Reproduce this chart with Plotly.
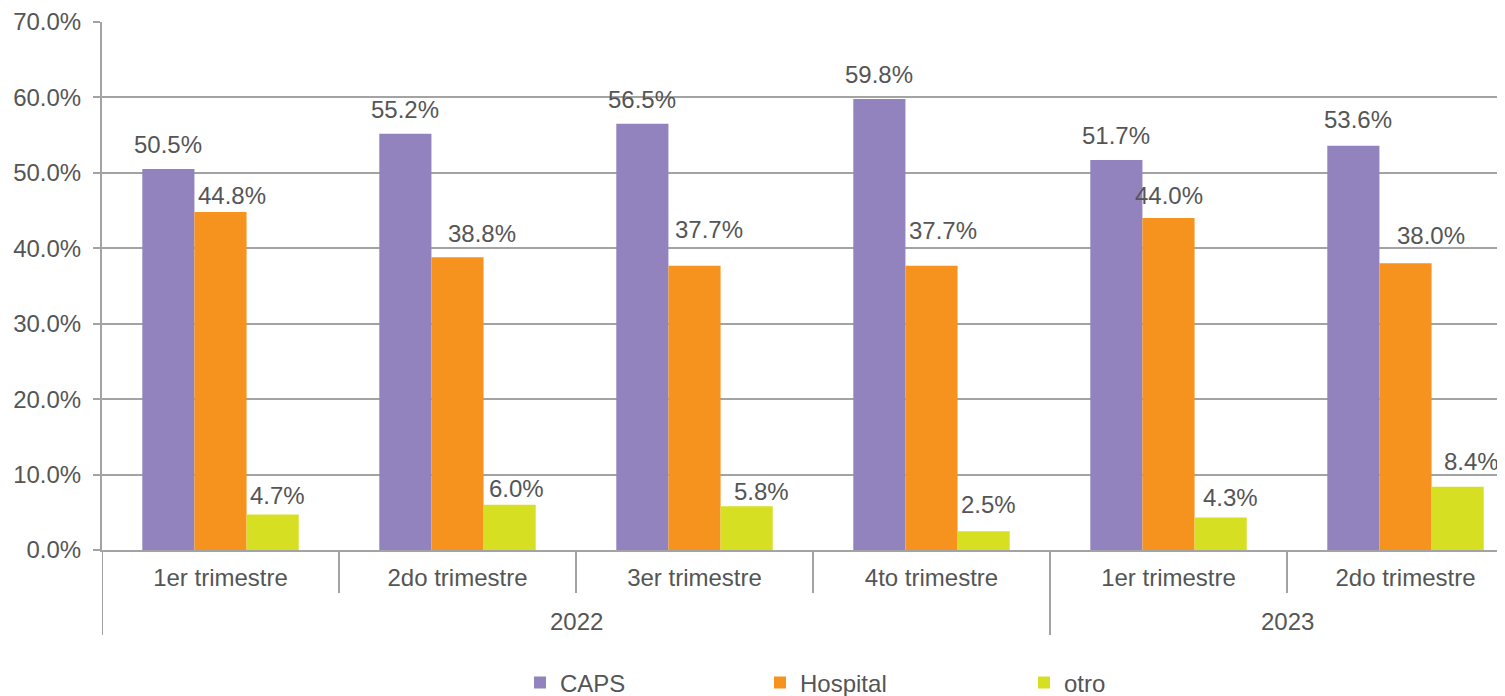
import plotly.graph_objects as go

years = ["2022", "2022", "2022", "2022", "2023", "2023"]
quarters = ["1er trimestre", "2do trimestre", "3er trimestre", "4to trimestre",
            "1er trimestre", "2do trimestre"]
series_names = ["CAPS", "Hospital", "otro"]
caps = [50.5, 55.2, 56.5, 59.8, 51.7, 53.6]
hospital = [44.8, 38.8, 37.7, 37.7, 44.0, 38.0]
otro = [4.7, 6.0, 5.8, 2.5, 4.3, 8.4]
colors = ["#9283BE", "#F6921E", "#D7DF23"]

FONT = "Liberation Sans, Arial, sans-serif"
TXT = "#555555"
LINE = "#A3A3A3"
FS = 24

# page body has an 8px default margin; the figure is sized so that the
# plot area lands at screen x 102..1505, y 22..550
OFF = 8
W, H = 1505 - OFF, 696 - OFF
ml, mt, mb = 102 - OFF, 22 - OFF, 146
plot_w = W - ml
plot_h = H - mt - mb
cat_px = 237
bargap = 0.34

def py2paper(py):
    # py: screen pixel row
    return (550 - py) / plot_h

idx = list(range(len(quarters)))
all_series = [caps, hospital, otro]

fig = go.Figure()
legend_ids = ["legend", "legend2", "legend3"]
for name, vals, col, lid in zip(series_names, all_series, colors, legend_ids):
    fig.add_trace(go.Bar(
        x=idx, y=vals, name=name, legend=lid,
        marker=dict(color=col, line=dict(width=0)),
        hoverinfo="name+y",
    ))

# data labels (label nudges in px, styling only)
label_dx = [[0, 0, 0, 0, 0, 5],
            [11, 24, 14, 11, 0, 25],
            [5, 7, 15, 5, 10, 14]]
label_dy = [[25, 24, 24, 24, 25, 26],
            [17, 24, 36, 35, 23, 28],
            [19, 16, 15, 27, 20, 25]]
bw = (1 - bargap) / len(all_series)
annotations = []
for k, vals in enumerate(all_series):
    off = (k - (len(all_series) - 1) / 2) * bw
    for i, v in enumerate(vals):
        annotations.append(dict(
            x=i + off, y=v, xref="x", yref="y",
            text=f"{v:.1f}%", showarrow=False,
            xanchor="center", yanchor="middle",
            xshift=label_dx[k][i], yshift=label_dy[k][i],
            font=dict(family=FONT, size=FS, color=TXT),
        ))

# year labels
for yv in dict.fromkeys(years):
    pos = [i for i, y in enumerate(years) if y == yv]
    annotations.append(dict(
        x=sum(pos) / len(pos), y=py2paper(622), xref="x", yref="paper",
        text=yv, showarrow=False, xanchor="center", yanchor="middle",
        font=dict(family=FONT, size=FS, color=TXT),
    ))

# category dividers
shapes = []
for i in range(len(years) + 1):
    b = i - 0.5
    long = (i == 0) or (i == len(years)) or (years[i] != years[i - 1])
    shapes.append(dict(
        type="line", xref="x", yref="paper", x0=b, x1=b,
        y0=0, y1=py2paper(635 if long else 593),
        line=dict(color=LINE, width=2),
    ))

leg_x = [520, 760, 1024]
leg_cfg = {}
for lid, lx in zip(legend_ids, leg_x):
    leg_cfg[lid] = dict(
        orientation="h", x=(lx - 102) / plot_w, xanchor="left",
        y=py2paper(683), yanchor="middle",
        font=dict(family=FONT, size=FS, color=TXT),
        bgcolor="rgba(0,0,0,0)", borderwidth=0,
    )

fig.update_layout(
    width=W, height=H,
    margin=dict(l=ml, r=0, t=mt, b=mb, pad=0, autoexpand=False),
    barmode="group", bargap=bargap, bargroupgap=0,
    plot_bgcolor="white", paper_bgcolor="white",
    font=dict(family=FONT, size=FS, color=TXT),
    showlegend=True,
    annotations=annotations,
    shapes=shapes,
    **leg_cfg,
)
fig.update_xaxes(
    range=[-0.5, -0.5 + plot_w / cat_px],
    tickmode="array", tickvals=idx, ticktext=quarters,
    showline=True, linecolor=LINE, linewidth=2,
    ticks="", ticklabelstandoff=5,
    tickfont=dict(family=FONT, size=FS, color=TXT),
    showgrid=False, zeroline=False, automargin=False,
)
fig.update_yaxes(
    range=[0, 70], dtick=10, tickformat=".1f", ticksuffix="%",
    showgrid=True, gridcolor=LINE, gridwidth=2,
    showline=True, linecolor=LINE, linewidth=2,
    ticks="outside", ticklen=7, tickcolor=LINE, tickwidth=2,
    ticklabelstandoff=7,
    tickfont=dict(family=FONT, size=FS, color=TXT),
    zeroline=False, automargin=False,
)

fig.write_html("out.html")
